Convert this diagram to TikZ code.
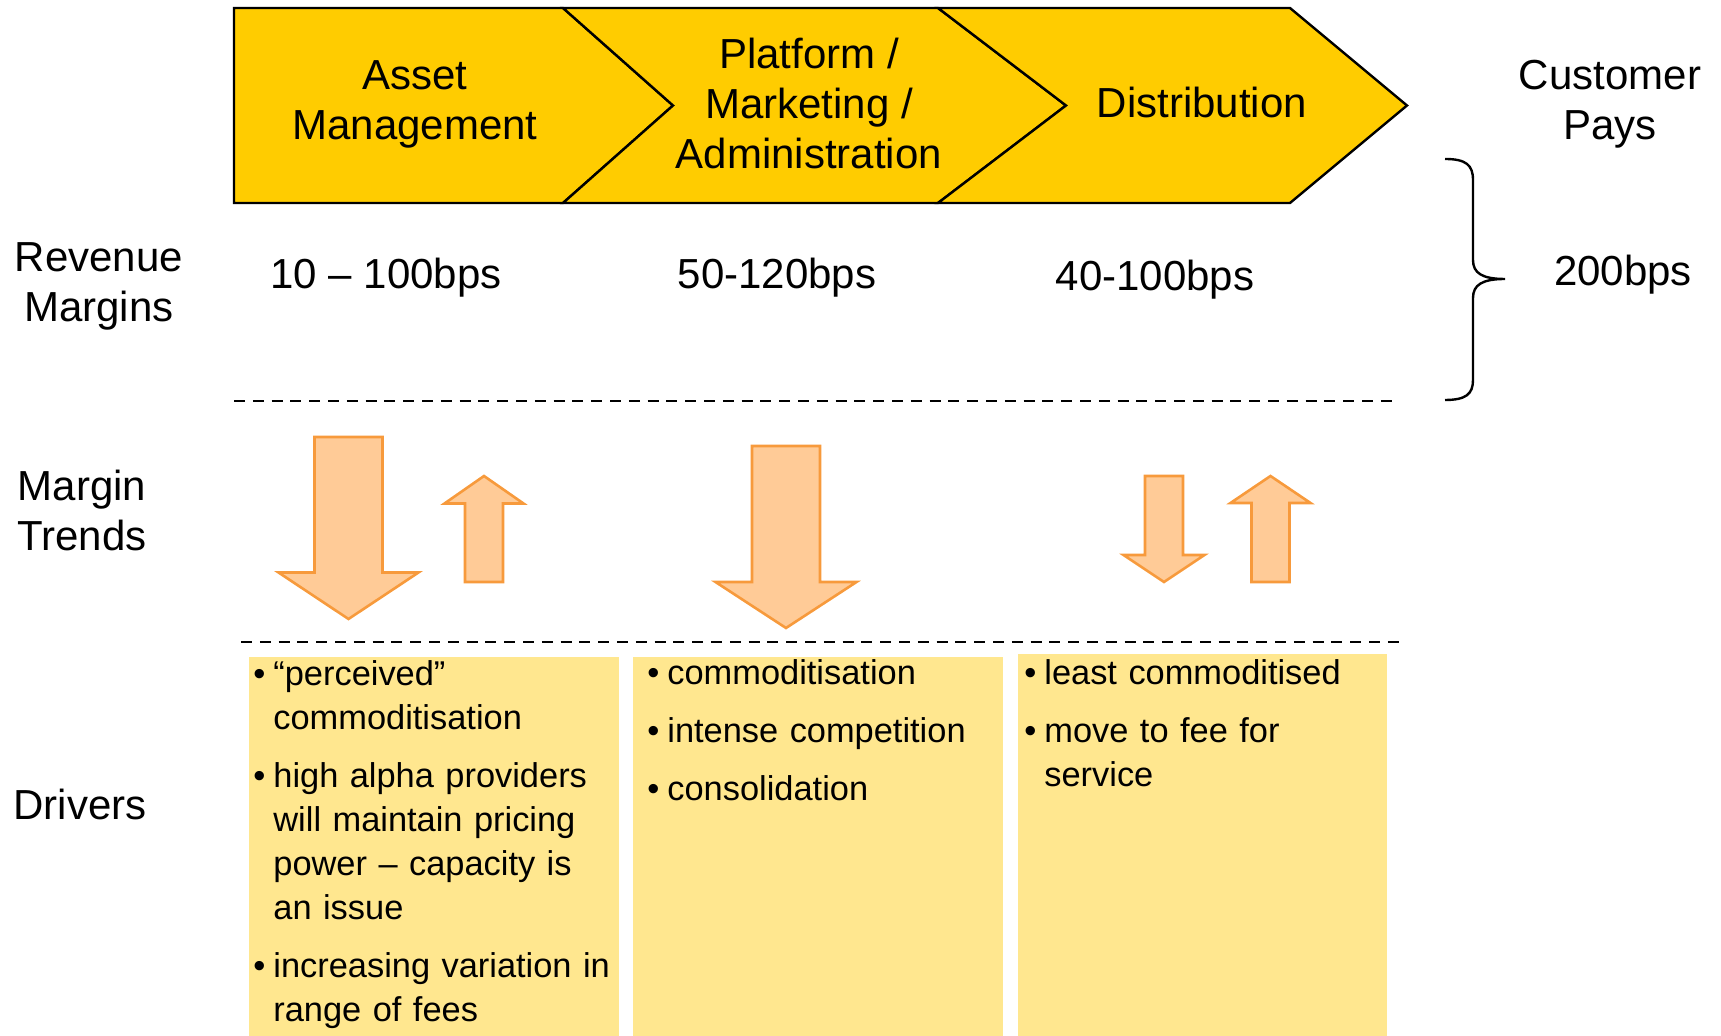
\documentclass[tikz,border=0pt]{standalone}
\usepackage{fontspec}
\setmainfont{Liberation Sans}
\definecolor{chevfill}{HTML}{FFCC00}
\definecolor{arrfill}{HTML}{FFCB97}
\definecolor{arrline}{HTML}{F79A3C}
\definecolor{boxfill}{HTML}{FFE78F}
\newcommand\mkTrend[6]{% cx, half shaft, shaft end, head base, half head, tip
  \draw[trendarrow] (#1-#2,#3) -- (#1+#2,#3) -- (#1+#2,#4) -- (#1+#5,#4) -- (#1,#6) -- (#1-#5,#4) -- (#1-#2,#4) -- cycle;}
\newcommand\bul[1]{\noindent\hangindent=10pt\hangafter=1\makebox[10pt][l]{•}#1\par}
\newcommand\gap{\vspace{7pt}}
\begin{document}
\begin{tikzpicture}[x=0.5pt,y=-0.5pt,
  chev/.style={fill=chevfill,draw=black,line width=1.2pt,line join=miter},
  trendarrow/.style={fill=arrfill,draw=arrline,line width=1.3pt,line join=miter},
  sep/.style={draw=black,line width=1pt,dash pattern=on 5.5pt off 3.9pt},
  drvbox/.style={fill=boxfill,draw=none},
  hdr/.style={font=\fontsize{21}{25}\selectfont,inner sep=0pt,align=center},
  drv/.style={font=\fontsize{17.2}{22}\selectfont,inner sep=0pt,text width=180pt,anchor=north west}]
\path[use as bounding box] (0,0) rectangle (1721,1036);
% chevrons
\draw[chev] (234,8) -- (563,8) -- (673,105.5) -- (563,203) -- (234,203) -- cycle;
\draw[chev] (563,8) -- (938,8) -- (1066,105.5) -- (938,203) -- (563,203) -- (673,105.5) -- cycle;
\draw[chev] (938,8) -- (1290,8) -- (1407,105.5) -- (1290,203) -- (938,203) -- (1066,105.5) -- cycle;
\node[hdr,anchor=north] (am) at (415,49) {\rule{0pt}{20pt}Asset\\Management};
\node[hdr,anchor=north] (pma) at (809,28) {\rule{0pt}{20pt}Platform /\\Marketing /\\Administration};
\node[hdr,anchor=base] (dist) at (1202,118) {Distribution};
\node[hdr,anchor=north] (cust) at (1610,49) {\rule{0pt}{20pt}Customer\\Pays};
% row labels
\node[hdr,anchor=north] (revm) at (99,231) {\rule{0pt}{20pt}Revenue\\Margins};
\node[hdr,anchor=north] (trend) at (82,460) {\rule{0pt}{20pt}Margin\\Trends};
\node[hdr,anchor=base] (drivers) at (80,820) {Drivers};
% margins
\node[hdr,anchor=base] (m1) at (386,289) {10 – 100bps};
\node[hdr,anchor=base] (m2) at (777,289) {50-120bps};
\node[hdr,anchor=base] (m3) at (1155,291) {40-100bps};
\node[hdr,anchor=base] (mt) at (1623,286) {200bps};
% brace
\draw[line width=1.2pt] (1445,159) .. controls (1466,159) and (1473,165) .. (1473,180) -- (1473,260)
  .. controls (1473,273) and (1482,279) .. (1505,279)
  .. controls (1482,279) and (1473,285) .. (1473,298) -- (1473,380)
  .. controls (1473,394) and (1466,400) .. (1445,400);
% separators
\draw[sep] (234,401) -- (1399,401);
\draw[sep] (241,642) -- (1406,642);
% trend arrows
\mkTrend{348.5}{34}{437}{572.5}{70}{619}
\mkTrend{484}{19}{582}{503.5}{39.5}{476}
\mkTrend{786}{34}{446}{582}{70.5}{628}
\mkTrend{1164}{19}{476}{555}{40.5}{582}
\mkTrend{1270.5}{19}{582}{503}{40}{476}
% driver boxes
\fill[drvbox] (249,657) rectangle (619,1036);
\fill[drvbox] (633,657) rectangle (1003,1036);
\fill[drvbox] (1018,654) rectangle (1387,1036);
\node[drv] (d1) at (253,655) {\raggedright
  \bul{\rule{0pt}{15pt}“perceived”\newline commoditisation}\gap
  \bul{high alpha providers\newline will maintain pricing\newline power – capacity is\newline an issue}\gap
  \bul{increasing variation in\newline range of fees}};
\node[drv] (d2) at (647,654) {\raggedright
  \bul{\rule{0pt}{15pt}commoditisation}\gap
  \bul{intense competition}\gap
  \bul{consolidation}};
\node[drv] (d3) at (1024,654) {\raggedright
  \bul{\rule{0pt}{15pt}least commoditised}\gap
  \bul{move to fee for\newline service}};
\end{tikzpicture}
\end{document}
